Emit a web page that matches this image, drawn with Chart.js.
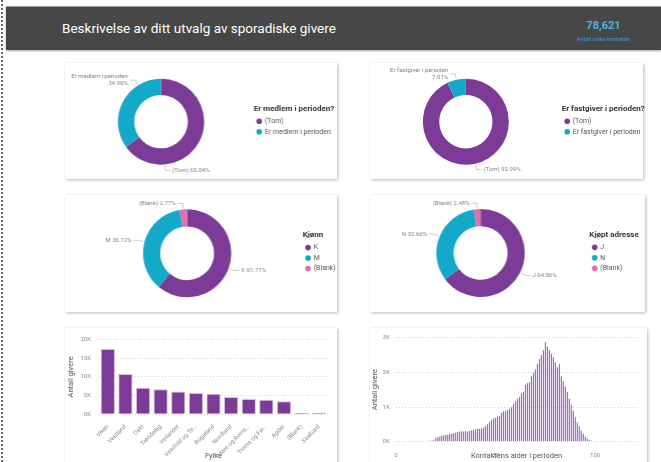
<!DOCTYPE html>
<html lang="no">
<head>
<meta charset="utf-8">
<title>Sporadiske givere</title>
<script src="https://cdn.jsdelivr.net/npm/chart.js@4.4.1/dist/chart.umd.min.js"></script>
<style>
  html, body { margin: 0; padding: 0; background: #fff; }
  body { width: 661px; height: 462px; overflow: hidden; position: relative; font-family: Roboto, sans-serif; }
  .edge { position: absolute; left: 1px; top: 0; bottom: 0; border-left: 2px dotted #666; }
  .header { position: absolute; left: 6px; top: 6px; right: 0; height: 43px; background: #474747;
            border-top: 1px solid #9a9a9a; box-shadow: 0 1px 2px rgba(0,0,0,.35); }
  .header h1 { position: absolute; left: 56px; top: 13px; margin: 0; font: 400 13.5px Roboto; color: #fff; white-space: nowrap; }
  .kpi { position: absolute; left: 560px; top: 12px; width: 75px; text-align: center; }
  .kpi .num { font: 700 11px Roboto; color: #4db4e4; }
  .kpi .sub { font: 400 5.5px Roboto; color: #3a9fd0; margin-top: 4px; }
  .card { position: absolute; background: #fff; box-shadow: 1px 1px 3px rgba(0,0,0,.28); }
  .plot { position: absolute; }
</style>
</head>
<body>
<div class="edge"></div>
<div class="header">
  <h1>Beskrivelse av ditt utvalg av sporadiske givere</h1>
  <div class="kpi"><div class="num">78,621</div><div class="sub">Antall unike kontakter</div></div>
</div>

<div class="card" style="left:65px;top:63px;width:272px;height:116px"></div>
<div class="card" style="left:370px;top:63px;width:273px;height:116px"></div>
<div class="card" style="left:65px;top:195px;width:272px;height:117px"></div>
<div class="card" style="left:370px;top:195px;width:275px;height:117px"></div>
<div class="card" style="left:65px;top:328px;width:272px;height:140px"></div>
<div class="card" style="left:370px;top:328px;width:277px;height:140px"></div>

<div class="plot" id="wMedlem" style="left:65px;top:63px;height:116px"><canvas id="medlem"></canvas></div>
<div class="plot" id="wFastgiver" style="left:370px;top:63px;height:116px"><canvas id="fastgiver"></canvas></div>
<div class="plot" id="wKjonn" style="left:65px;top:195px;height:117px"><canvas id="kjonn"></canvas></div>
<div class="plot" id="wAdresse" style="left:370px;top:195px;height:117px"><canvas id="adresse"></canvas></div>
<div class="plot" style="left:65px;top:328px;width:272px;height:134px"><canvas id="fylke"></canvas></div>
<div class="plot" style="left:370px;top:328px;width:277px;height:134px"><canvas id="alder"></canvas></div>

<script>
// andeler i prosent
const medlemLabels = ['(Tom)', 'Er medlem i perioden'];
const medlemPct = [65.04, 34.96];
const fastgiverLabels = ['(Tom)', 'Er fastgiver i perioden'];
const fastgiverPct = [92.99, 7.01];
const kjonnLabels = ['K', 'M', '(Blank)'];
const kjonnPct = [61.11, 36.12, 2.77];
const adresseLabels = ['J', 'N', '(Blank)'];
const adressePct = [64.86, 32.66, 2.48];

// antall givere per fylke
const fylker = ['Viken', 'Vestland', 'Oslo', 'Trøndelag', 'Innlandet', 'Vestfold og Te…', 'Rogaland',
  'Nordland', 'Møre og Roms…', 'Troms og Fin…', 'Agder', '(Blank)', 'Svalbard'];
const giverePerFylke = [17500, 10800, 7100, 6700, 6100, 5700, 5500, 4600, 4100, 3900, 3500, 120, 80];
const fylkeTicks = [0, 5000, 10000, 15000, 20000];

// antall givere per alder
const alder = [12, 13, 14, 15, 16, 17, 18, 19,
  20, 21, 22, 23, 24, 25, 26, 27, 28, 29,
  30, 31, 32, 33, 34, 35, 36, 37, 38, 39,
  40, 41, 42, 43, 44, 45, 46, 47, 48, 49,
  50, 51, 52, 53, 54, 55, 56, 57, 58, 59,
  60, 61, 62, 63, 64, 65, 66, 67, 68, 69,
  70, 71, 72, 73, 74, 75, 76, 77, 78, 79,
  80, 81, 82, 83, 84, 85, 86, 87, 88, 89,
  90, 91, 92, 93, 94, 95, 96, 97, 98, 99,
  100, 101, 102, 103, 104, 105, 106];
const giverePerAlder = [10, 15, 20, 25, 30, 35, 40, 50,
  120, 140, 160, 180, 190, 200, 210, 230, 240, 260,
  270, 290, 300, 310, 300, 320, 300, 320, 340, 350,
  370, 390, 380, 400, 420, 470, 520, 580, 640, 680,
  700, 730, 760, 850, 900, 890, 930, 960, 1000, 1100,
  1180, 1250, 1300, 1400, 1450, 1650, 1700, 1720, 1900, 2000,
  2100, 2250, 2400, 2500, 2650, 2880, 2750, 2650, 2550, 2450,
  2300, 2150, 2250, 1900, 1750, 1600, 1450, 1250, 1080, 900,
  720, 560, 450, 330, 240, 160, 100, 60, 40, 30,
  22, 15, 12, 10, 8, 6, 5];
const alderTicks = [0, 50, 100];
const alderYTicks = [0, 1000, 2000, 3000];

const purple = '#7b3b96';
const cyan = '#14a8c9';
const pink = '#e46fae';

Chart.defaults.font.family = 'Roboto';
Chart.defaults.animation = false;
Chart.defaults.events = [];

// etiketter med hjelpelinjer utenfor ringen
const sliceLabels = {
  id: 'sliceLabels',
  afterDatasetsDraw(chart, args, opts) {
    const ctx = chart.ctx;
    const meta = chart.getDatasetMeta(0);
    const values = chart.data.datasets[0].data;
    const names = chart.data.labels;
    ctx.save();
    ctx.font = '6px Roboto';
    ctx.textBaseline = 'middle';
    meta.data.forEach((arc, i) => {
      const p = arc.getProps(['x', 'y', 'startAngle', 'endAngle', 'outerRadius'], true);
      const a = opts.angles && opts.angles[i] != null
        ? opts.angles[i] * Math.PI / 180 - Math.PI / 2
        : (p.startAngle + p.endAngle) / 2;
      const c = Math.cos(a), s = Math.sin(a);
      const x0 = p.x + c * (p.outerRadius + 1), y0 = p.y + s * (p.outerRadius + 1);
      const x1 = p.x + c * (p.outerRadius + 6), y1 = p.y + s * (p.outerRadius + 6);
      const right = c >= 0;
      const x2 = x1 + (right ? 5 : -5);
      ctx.strokeStyle = '#bdbdbd';
      ctx.lineWidth = 0.8;
      ctx.beginPath();
      ctx.moveTo(x0, y0);
      ctx.lineTo(x1, y1);
      ctx.lineTo(x2, y1);
      ctx.stroke();
      const pct = values[i].toFixed(2) + '%';
      const tx = x2 + (right ? 2 : -2);
      ctx.textAlign = right ? 'left' : 'right';
      ctx.fillStyle = '#808080';
      if (names[i].length > 12) {
        ctx.fillText(names[i], tx, y1 - 3.4);
        ctx.fillText(pct, tx, y1 + 3.4);
      } else {
        ctx.fillText(names[i] + ' ' + pct, tx, y1);
      }
    });
    ctx.restore();
  }
};

const legendFont = 7;
const titleFont = 8;
const labelPad = 3.5;
const measure = document.createElement('canvas').getContext('2d');
function textWidth(t, font) { measure.font = font; return measure.measureText(t).width; }

// legenden klipper tittelen til sin egen bredde, så boksen gjøres minst like bred som tittelen
const wideLegend = {
  id: 'wideLegend',
  beforeLayout(chart) {
    const lg = chart.legend;
    if (!lg || lg._wide) return;
    const fit = lg.fit;
    lg.fit = function () {
      fit.call(this);
      const w = textWidth(this.options.title.text, 'bold ' + titleFont + 'px Roboto') + 2;
      if (this.width < w) this.width = w;
    };
    lg._wide = true;
  }
};

// legendLeft: legendens venstre kant i lerretet; pad: luft rundt ringen
function makeDonut(id, wrapId, title, labels, values, colors, legendLeft, pad, cutout, angles) {
  const itemW = Math.max(...labels.map(t => textWidth(t, legendFont + 'px Roboto')));
  const legendW = labelPad + 4 + legendFont / 2 + itemW + 10;
  const titleW = textWidth(title, 'bold ' + titleFont + 'px Roboto') + 2;
  document.getElementById(wrapId).style.width = (legendLeft + Math.max(legendW, titleW)) + 'px';
  new Chart(document.getElementById(id), {
    type: 'doughnut',
    data: { labels: labels, datasets: [{ data: values, backgroundColor: colors, borderWidth: 0 }] },
    options: {
      responsive: true,
      maintainAspectRatio: false,
      cutout: cutout,
      layout: { padding: { left: pad.left, top: pad.top, bottom: pad.bottom, right: 0 } },
      plugins: {
        tooltip: { enabled: false },
        sliceLabels: { angles: angles },
        legend: {
          position: 'right',
          title: { display: true, text: title, color: '#333', position: 'start',
                   font: { size: titleFont, weight: 'bold' }, padding: 0 },
          labels: { usePointStyle: true, pointStyle: 'circle', boxWidth: 4, boxHeight: 4,
                    padding: labelPad, color: '#555', font: { size: legendFont } }
        }
      }
    },
    plugins: [sliceLabels, wideLegend]
  });
}

makeDonut('medlem', 'wMedlem', 'Er medlem i perioden?', medlemLabels, medlemPct, [purple, cyan],
  188, { left: 3.4, top: 15.7, bottom: 14.3 }, '62%', [175, 328]);
makeDonut('fastgiver', 'wFastgiver', 'Er fastgiver i perioden?', fastgiverLabels, fastgiverPct, [purple, cyan],
  191.7, { left: 0, top: 15.7, bottom: 14.3 }, '62%');
makeDonut('kjonn', 'wKjonn', 'Kjønn', kjonnLabels, kjonnPct, [purple, cyan, pink],
  236.7, { left: 6.7, top: 14.3, bottom: 14.7 }, '61%');
makeDonut('adresse', 'wAdresse', 'Kjøpt adresse', adresseLabels, adressePct, [purple, cyan, pink],
  218.3, { left: 2, top: 14, bottom: 15 }, '61%');

const tickColor = '#8a8a8a';
const axisTitle = { size: 7.5 };

new Chart(document.getElementById('fylke'), {
  type: 'bar',
  data: {
    labels: fylker,
    datasets: [{ data: giverePerFylke, backgroundColor: purple, borderColor: '#d5bde0', borderWidth: 1,
                 minBarLength: 1.5, categoryPercentage: 1, barPercentage: 0.81 }]
  },
  options: {
    responsive: true,
    maintainAspectRatio: false,
    layout: { padding: { top: 7, right: 9, left: 0, bottom: 0 } },
    plugins: { legend: { display: false }, tooltip: { enabled: false } },
    scales: {
      x: {
        grid: { display: false },
        border: { display: false },
        ticks: { autoSkip: false, minRotation: 45, maxRotation: 45, padding: 1, color: tickColor, font: { size: 6 } },
        title: { display: true, text: 'Fylke', color: '#555', font: axisTitle, padding: { top: 0, bottom: 1 } },
        afterFit: s => { s.height = 47.7; }
      },
      y: {
        min: 0, max: 20000,
        afterBuildTicks: s => { s.ticks = fylkeTicks.map(v => ({ value: v })); },
        ticks: { callback: v => (v / 1000) + 'K', padding: 8, color: tickColor, font: { size: 6 } },
        grid: { color: '#cfcfcf', drawTicks: false },
        border: { display: false, dash: [1, 2] },
        title: { display: true, text: 'Antall givere', color: '#555', font: axisTitle, padding: { top: 2, bottom: 0 } },
        afterFit: s => { s.width = 34; }
      }
    }
  }
});

new Chart(document.getElementById('alder'), {
  type: 'bar',
  data: {
    datasets: [{ data: alder.map((a, i) => ({ x: a, y: giverePerAlder[i] })), backgroundColor: purple,
                 borderColor: '#cfb2dd', borderWidth: 0.6, borderSkipped: 'start',
                 categoryPercentage: 1, barPercentage: 0.95 }]
  },
  options: {
    responsive: true,
    maintainAspectRatio: false,
    layout: { padding: { top: 7.7, right: 10, left: 0, bottom: 0 } },
    plugins: { legend: { display: false }, tooltip: { enabled: false } },
    scales: {
      x: {
        type: 'linear', min: 0, max: 121, offset: false,
        afterBuildTicks: s => { s.ticks = alderTicks.map(v => ({ value: v })); },
        grid: { display: false },
        border: { display: false },
        ticks: { padding: 2, color: tickColor, font: { size: 6 }, maxRotation: 0 },
        title: { display: true, text: 'Kontaktens alder i perioden', color: '#555', font: axisTitle, padding: { top: 0, bottom: 1 } },
        afterFit: s => { s.height = 20.3; }
      },
      y: {
        min: 0, max: 3000,
        afterBuildTicks: s => { s.ticks = alderYTicks.map(v => ({ value: v })); },
        ticks: { callback: v => (v / 1000) + 'K', padding: 6, color: tickColor, font: { size: 6 } },
        grid: { color: '#cfcfcf', drawTicks: false },
        border: { display: false, dash: [1, 2] },
        title: { display: true, text: 'Antall givere', color: '#555', font: axisTitle, padding: { top: 1, bottom: 0 } },
        afterFit: s => { s.width = 26; }
      }
    }
  }
});
</script>
</body>
</html>
